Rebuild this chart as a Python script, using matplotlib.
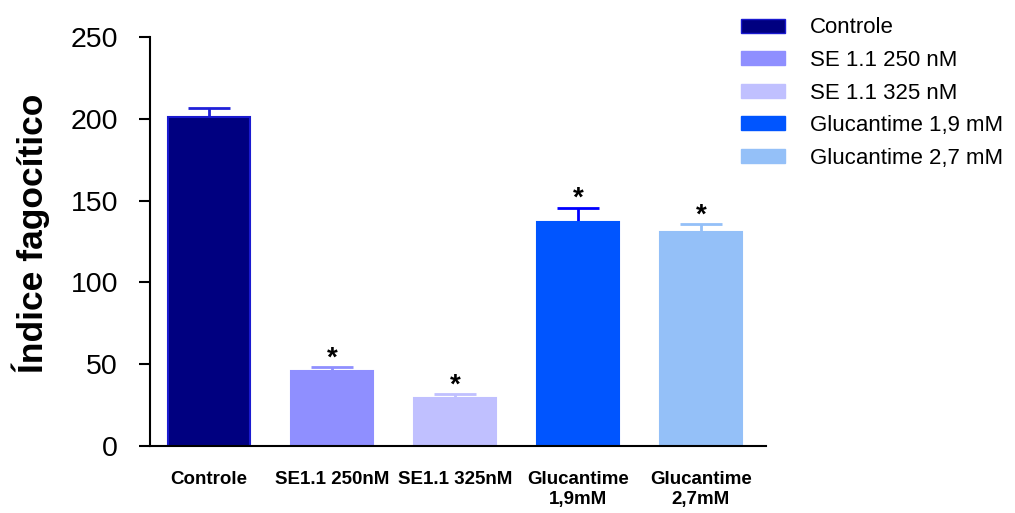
import matplotlib.pyplot as plt
from matplotlib.patches import Patch

plt.rcParams['font.family'] = ['Liberation Sans', 'DejaVu Sans']

groups = ['Controle', 'SE1.1 250nM', 'SE1.1 325nM', 'Glucantime\n1,9mM', 'Glucantime\n2,7mM']
legend_names = ['Controle', 'SE 1.1 250 nM', 'SE 1.1 325 nM', 'Glucantime 1,9 mM', 'Glucantime 2,7 mM']
means = [201, 46, 29.5, 137, 130.5]
errors = [5.5, 2, 2, 8.5, 5]
significant = [False, True, True, True, True]

fills = ['#000080', '#8F8FFF', '#C0C0FF', '#0055FF', '#94C0F8']
edges = ['#1A1AD0', '#8F8FFF', '#C0C0FF', '#0055FF', '#94C0F8']
err_colors = ['#2020D8', '#8F8FFF', '#C0C0FF', '#0000FF', '#94C0F8']

fig = plt.figure(figsize=(10.15, 5.13), dpi=100)
ax = fig.add_axes([0.1478, 0.1306, 0.607, 0.7974])

x = list(range(len(groups)))
ax.bar(x, means, width=0.66, color=fills, edgecolor=edges, linewidth=1.5, zorder=2)
for xi, m, e, c, sig in zip(x, means, errors, err_colors, significant):
    ax.errorbar(xi, m, yerr=[[0], [e]], color=c, capsize=15, capthick=2, elinewidth=2, zorder=1)
    if sig:
        ax.text(xi, m + e - 2.5, '*', ha='center', va='bottom', fontsize=20, fontweight='bold')

ax.set_xlim(-0.48, 4.53)
ax.set_ylim(0, 250)
ax.set_yticks([0, 50, 100, 150, 200, 250])
ax.tick_params(axis='y', labelsize=20.5, length=8, width=1.5, pad=15)
ax.tick_params(axis='x', length=0, pad=18)
ax.set_xticks(x)
ax.set_xticklabels(groups, fontsize=13.5, fontweight='bold', linespacing=1.2, va='top')
for s in ['top', 'right']:
    ax.spines[s].set_visible(False)
for s in ['left', 'bottom']:
    ax.spines[s].set_linewidth(1.5)
ax.set_ylabel('Índice fagocítico', fontsize=25.5, fontweight='bold')
ax.yaxis.set_label_coords(-0.163, 0.52)

handles = [Patch(facecolor=f, edgecolor=e) for f, e in zip(fills, edges)]
fig.legend(handles, legend_names, loc='upper left', bbox_to_anchor=(0.730, 0.966),
           frameon=False, fontsize=16, handlelength=2.0, handleheight=0.6,
           labelspacing=0.52, handletextpad=1.1, borderpad=0, borderaxespad=0)

fig.savefig('out.png', dpi=100)
